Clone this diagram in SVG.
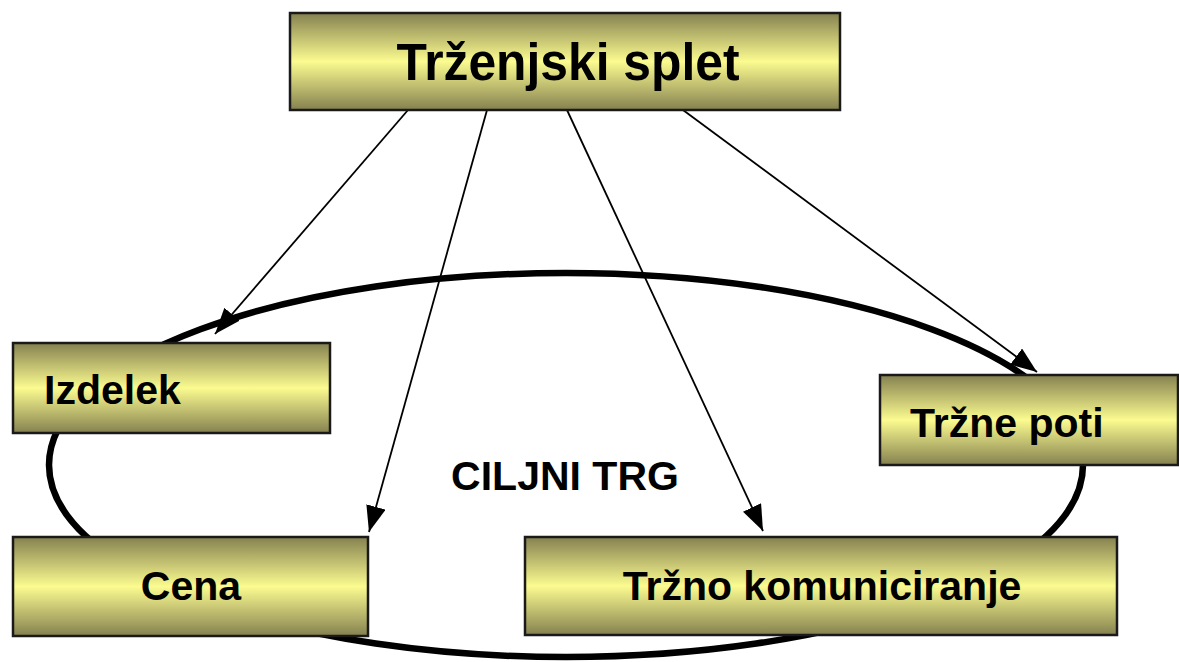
<svg xmlns="http://www.w3.org/2000/svg" width="1179" height="662" viewBox="0 0 1179 662">
<defs>
<linearGradient id="g" x1="0" y1="0" x2="0" y2="1">
<stop offset="0" stop-color="#858150"/>
<stop offset="0.5" stop-color="#fbfb90"/>
<stop offset="1" stop-color="#858150"/>
</linearGradient>
<marker id="ah" viewBox="0 0 26 20" refX="26" refY="10" markerWidth="26" markerHeight="20" markerUnits="userSpaceOnUse" orient="auto">
<path d="M0,0 L26,10 L0,20 z" fill="#000"/>
</marker>
<style>
.box{fill:url(#g);stroke:#1a1a1a;stroke-width:2.5}
.t{font-family:"Liberation Sans",Arial,sans-serif;font-weight:bold;fill:#000}
.c{stroke:#000;stroke-width:1.8;fill:none;marker-end:url(#ah)}
</style>
</defs>
<rect width="1179" height="662" fill="#fff"/>
<ellipse cx="566" cy="465" rx="517" ry="192" fill="none" stroke="#000" stroke-width="6.5"/>
<text class="t" x="565" y="490" font-size="41" text-anchor="middle">CILJNI TRG</text>
<g id="connectors">
<line class="c" x1="408" y1="110" x2="215" y2="334"/>
<line class="c" x1="487" y1="110" x2="369" y2="532"/>
<line class="c" x1="567" y1="110" x2="763" y2="531"/>
<line class="c" x1="683" y1="110" x2="1037" y2="372"/>
</g>
<g id="trzenjski-splet">
<rect class="box" x="290" y="13" width="550" height="97"/>
<text class="t" x="568" y="80" font-size="51" text-anchor="middle" textLength="343" lengthAdjust="spacingAndGlyphs">Trženjski splet</text>
</g>
<g id="izdelek">
<rect class="box" x="13" y="343" width="317" height="90"/>
<text class="t" x="44" y="404" font-size="41">Izdelek</text>
</g>
<g id="trzne-poti">
<rect class="box" x="880" y="375" width="298" height="90"/>
<text class="t" x="910" y="437" font-size="41">Tržne poti</text>
</g>
<g id="cena">
<rect class="box" x="13" y="537" width="355" height="99"/>
<text class="t" x="191" y="600" font-size="41" text-anchor="middle">Cena</text>
</g>
<g id="trzno-komuniciranje">
<rect class="box" x="525" y="537" width="592" height="98"/>
<text class="t" x="822" y="600" font-size="41" text-anchor="middle">Tržno komuniciranje</text>
</g>
</svg>
